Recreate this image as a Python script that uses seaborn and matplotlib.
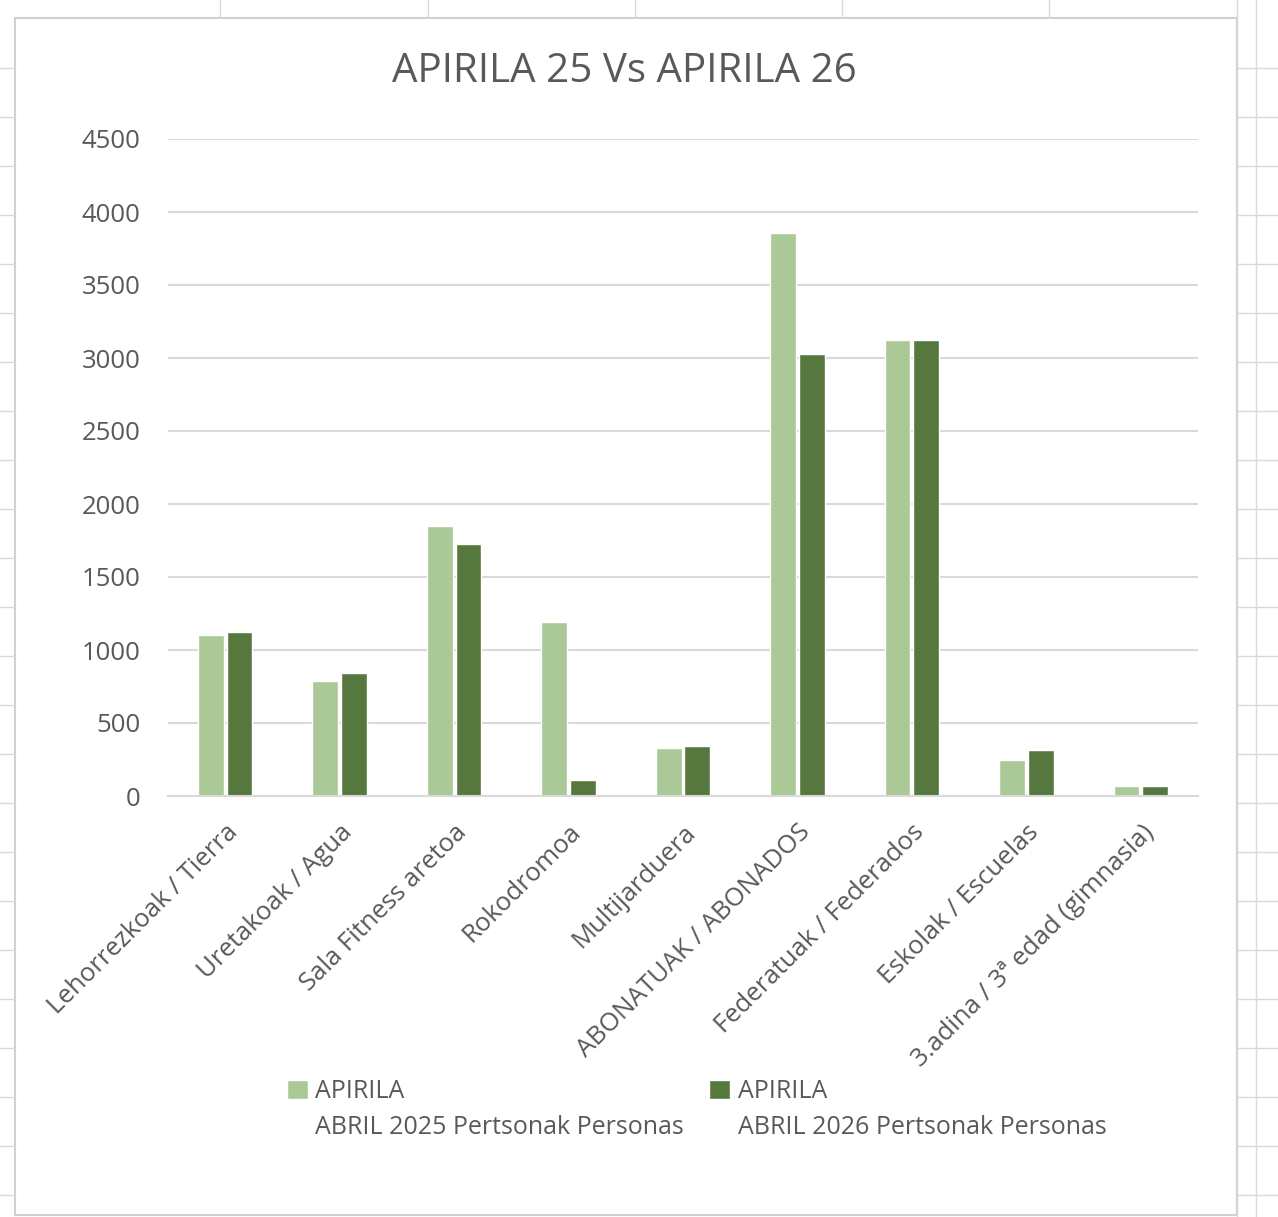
import matplotlib
matplotlib.use("Agg")
import matplotlib.pyplot as plt
import seaborn as sns
import pandas as pd
from matplotlib.lines import Line2D
from matplotlib.patches import Rectangle

categories = [
    "Lehorrezkoak / Tierra",
    "Uretakoak / Agua",
    "Sala Fitness aretoa",
    "Rokodromoa",
    "Multijarduera",
    "ABONATUAK / ABONADOS",
    "Federatuak / Federados",
    "Eskolak / Escuelas",
    "3.adina / 3ª edad (gimnasia)",
]
series_names = [
    "APIRILA\nABRIL 2025 Pertsonak Personas",
    "APIRILA\nABRIL 2026 Pertsonak Personas",
]
values_2025 = [1100, 790, 1850, 1190, 330, 3855, 3120, 250, 70]
values_2026 = [1125, 840, 1725, 110, 345, 3025, 3120, 315, 70]
yticks = [0, 500, 1000, 1500, 2000, 2500, 3000, 3500, 4000, 4500]

colors = ["#A9D18E", "#548235"]
text_color = "#595959"
grid_color = "#D9D9D9"

df = pd.DataFrame({
    "cat": categories * 2,
    "value": values_2025 + values_2026,
    "series": [series_names[0]] * len(categories) + [series_names[1]] * len(categories),
})

sns.set_theme(style="white")
plt.rcParams["font.family"] = ["Open Sans", "DejaVu Sans"]

fig = plt.figure(figsize=(12.78, 12.17), dpi=100)
ax = fig.add_axes([168 / 1278, 1 - 796 / 1217, (1198 - 168) / 1278, (796 - 139) / 1217])

sns.barplot(data=df, x="cat", y="value", hue="series", palette=colors,
            width=0.5, gap=0.1, edgecolor="white", linewidth=1, ax=ax,
            order=categories, hue_order=series_names)

ax.set_ylim(0, 4500)
ax.set_xlim(-0.5, len(categories) - 0.5)
ax.set_yticks(yticks)
ax.set_yticklabels([str(v) for v in yticks], fontsize=18.5, color=text_color)
ax.yaxis.grid(True, color=grid_color, linewidth=1.5)
ax.set_axisbelow(True)
for s in ["top", "right", "left"]:
    ax.spines[s].set_visible(False)
ax.spines["bottom"].set_color(grid_color)
ax.spines["bottom"].set_linewidth(1.5)
ax.tick_params(axis="both", length=0)
ax.tick_params(axis="y", pad=20)
ax.set_xlabel("")
ax.set_ylabel("")
ax.set_xticks(range(len(categories)))
ax.set_xticklabels(categories, rotation=45, ha="right", rotation_mode="anchor",
                   fontsize=18.5, color=text_color)
ax.tick_params(axis="x", pad=17)

fig.text(624 / 1278, 1 - 72 / 1217, "APIRILA 25 Vs APIRILA 26", ha="center", va="center",
         fontsize=29, color=text_color)

leg = ax.legend(loc="upper left", bbox_to_anchor=(264 / 1278, 1 - 1057 / 1217),
                bbox_transform=fig.transFigure, ncol=2, frameon=False,
                fontsize=18, handlelength=0.85, handleheight=0.85, handletextpad=0.3,
                columnspacing=1.0, labelcolor=text_color, labelspacing=0.3)
for t in leg.get_texts():
    t.set_linespacing(1.55)
try:
    for col in leg._legend_handle_box.get_children():
        for item in col.get_children():
            item.align = "top"
except Exception:
    pass

# chart border and spreadsheet grid decorations
fig.add_artist(Rectangle((15 / 1278, 1 - 1215 / 1217), (1237 - 15) / 1278, (1215 - 18) / 1217,
                         transform=fig.transFigure, fill=False, edgecolor="#D0D0D0", linewidth=1.5))
for x in [220, 428, 635, 842, 1049]:
    fig.add_artist(Line2D([x / 1278, x / 1278], [1, 1 - 18 / 1217], transform=fig.transFigure,
                          color="#D9D9D9", linewidth=1))
for x in [1237, 1256]:
    fig.add_artist(Line2D([x / 1278, x / 1278], [0, 1], transform=fig.transFigure,
                          color="#D9D9D9", linewidth=1))
for y in [68, 117, 166, 215, 264, 313, 362, 411, 460, 509, 558, 607, 656, 705, 754, 803,
          852, 901, 950, 999, 1048, 1097, 1146, 1195]:
    fig.add_artist(Line2D([0, 15 / 1278], [1 - y / 1217, 1 - y / 1217], transform=fig.transFigure,
                          color="#D9D9D9", linewidth=1))
    fig.add_artist(Line2D([1237 / 1278, 1], [1 - y / 1217, 1 - y / 1217], transform=fig.transFigure,
                          color="#D9D9D9", linewidth=1))

fig.savefig("out.png", dpi=100, facecolor="white")
